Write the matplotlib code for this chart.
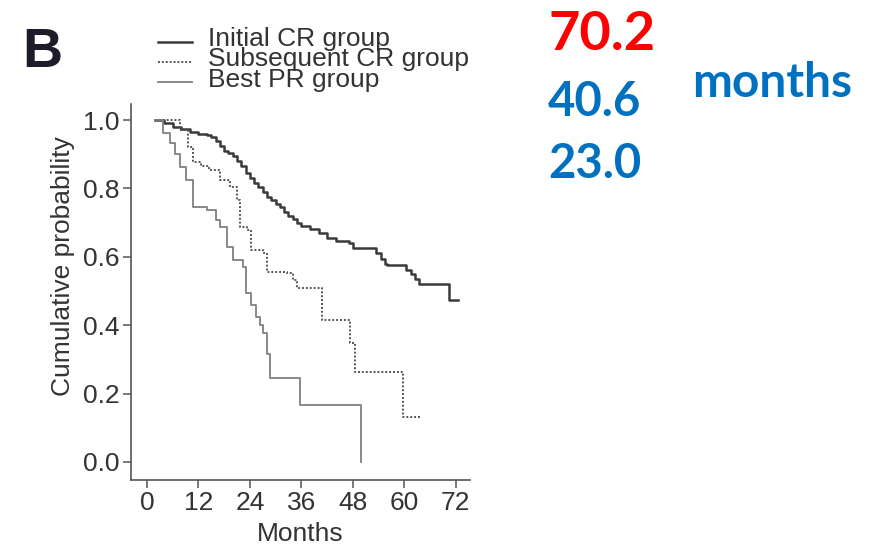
import matplotlib
matplotlib.use("Agg")
import matplotlib.pyplot as plt
from matplotlib.lines import Line2D

# ---- data ----
initial_t = [2, 4, 6, 8, 10, 12, 14, 15, 16, 17, 18, 19, 20, 21, 22, 23, 24, 25, 26, 27,
             28, 29, 30, 31, 32, 33, 34, 35, 36, 38, 40, 42, 44, 47, 48, 53.5, 54.5, 55.5,
             56, 60.5, 61.5, 62.5, 63.5, 70.5, 72.5]
initial_s = [1.0, 0.99, 0.98, 0.975, 0.965, 0.96, 0.955, 0.95, 0.94, 0.925, 0.91, 0.905,
             0.895, 0.88, 0.865, 0.845, 0.83, 0.815, 0.805, 0.79, 0.775, 0.765, 0.755,
             0.745, 0.73, 0.72, 0.71, 0.70, 0.69, 0.68, 0.67, 0.655, 0.645, 0.64, 0.625,
             0.61, 0.595, 0.58, 0.575, 0.56, 0.55, 0.535, 0.52, 0.475, 0.475]

subseq_t = [2, 7.7, 9.5, 10.7, 12.5, 14.5, 17, 19.3, 21, 21.7, 23.3, 24.3, 27, 28, 32.6,
            34, 35, 40.7, 47.3, 48.5, 59.7, 63.6]
subseq_s = [1.0, 0.97, 0.92, 0.877, 0.865, 0.854, 0.825, 0.804, 0.766, 0.687, 0.678, 0.62,
            0.61, 0.556, 0.553, 0.532, 0.509, 0.415, 0.347, 0.264, 0.13, 0.13]

pr_t = [2, 3.8, 5.4, 6.5, 7.7, 9.2, 10.8, 13.9, 16.2, 17.0, 18.6, 20.1, 22.5, 23.2, 24.3,
        25.5, 26.3, 27.1, 28.0, 28.7, 35.7, 50.0]
pr_s = [1.0, 0.961, 0.932, 0.9, 0.863, 0.825, 0.747, 0.737, 0.708, 0.688, 0.630, 0.591,
        0.571, 0.493, 0.46, 0.425, 0.40, 0.376, 0.317, 0.245, 0.167, 0.0]

labels = ["Initial CR group", "Subsequent CR group", "Best PR group"]
x_ticks = [0, 12, 24, 36, 48, 60, 72]
y_ticks = [0.0, 0.2, 0.4, 0.6, 0.8, 1.0]
medians = ["70.2", "40.6", "23.0"]

# ---- figure ----
W, H = 872, 545
fig = plt.figure(figsize=(W / 100, H / 100), dpi=100)
fig.patch.set_facecolor("white")
plt.rcParams["font.family"] = ["Liberation Sans", "DejaVu Sans"]

ax = fig.add_axes([131 / W, 1 - 480 / H, (470 - 131) / W, (480 - 104) / H])

c_init, c_sub, c_pr = "#3a3a3a", "#555555", "#808080"
ax.step(initial_t, initial_s, where="post", color=c_init, lw=1.8)
ax.step(subseq_t, subseq_s, where="post", color=c_sub, lw=1.4, linestyle=(0, (1, 1)))
ax.step(pr_t, pr_s, where="post", color=c_pr, lw=1.3)

ax.set_xlim(-3.7, 75.3)
ax.set_ylim(-0.053, 1.047)
ax.set_xticks(x_ticks)
ax.set_xticklabels([str(v) for v in x_ticks])
ax.set_yticks(y_ticks)
ax.set_yticklabels([f"{v:.1f}" for v in y_ticks])
for s in ["top", "right"]:
    ax.spines[s].set_visible(False)
for s in ["left", "bottom"]:
    ax.spines[s].set_color("#555555")
    ax.spines[s].set_linewidth(1.2)
ax.tick_params(direction="out", length=6, width=1.1, color="#555555",
               labelsize=19, labelcolor="#333333", pad=2)
ax.set_xlabel("Months", fontsize=19, color="#333333", labelpad=5)
ax.set_ylabel("Cumulative probability", fontsize=19, color="#333333")
ax.yaxis.set_label_coords(-0.165, 0.57)

# panel letter
fig.text(22 / W, 1 - 67 / H, "B", fontsize=40, fontweight="bold", color="#1c1c2a",
         ha="left", va="baseline")

# legend (manual)
leg_y = [42, 62, 82]
leg_base = [46, 66, 87]
styles = [dict(color=c_init, lw=1.8, ls="-"),
          dict(color=c_sub, lw=1.4, ls=(0, (1, 1))),
          dict(color=c_pr, lw=1.3, ls="-")]
for ly, lb, lab, st in zip(leg_y, leg_base, labels, styles):
    fig.add_artist(Line2D([158 / W, 192 / W], [1 - ly / H, 1 - ly / H],
                          transform=fig.transFigure, color=st["color"],
                          lw=st["lw"], linestyle=st["ls"]))
    fig.text(208 / W, 1 - lb / H, lab, fontsize=19, color="#333333",
             ha="left", va="baseline")

# median annotations
fig.text(548 / W, 1 - 50 / H, medians[0], fontsize=39, fontweight="bold",
         color="#FF0000", family="Lato", ha="left", va="baseline")
fig.text(548 / W, 1 - 116 / H, medians[1], fontsize=34, fontweight="bold",
         color="#0070C0", family="Lato", ha="left", va="baseline")
fig.text(548 / W, 1 - 178 / H, medians[2], fontsize=34, fontweight="bold",
         color="#0070C0", family="Lato", ha="left", va="baseline")
fig.text(692 / W, 1 - 97 / H, "months", fontsize=34.5, fontweight="bold",
         color="#0070C0", family="Lato", ha="left", va="baseline")

fig.savefig("out.png", dpi=100, facecolor="white")
